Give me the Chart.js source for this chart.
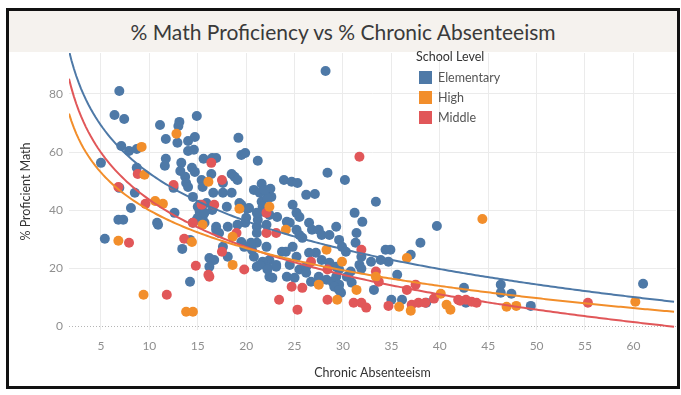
<!DOCTYPE html>
<html>
<head>
<meta charset="utf-8">
<script src="https://cdn.jsdelivr.net/npm/chart.js@4.4.1/dist/chart.umd.min.js"></script>
<style>
  body { margin: 0; background: #fff; font-family: Lato, sans-serif; }
  .wrap { position: relative; width: 681px; height: 395px; overflow: hidden; }
  .title-band {
    position: absolute; left: 9px; top: 11px; width: 668px; height: 41px;
    background: #f5f2ee; color: #3a3a3a; font-size: 21px;
    display: flex; align-items: center; justify-content: center;
  }
  #chart { position: absolute; left: 0; top: 0; }
  .frame {
    position: absolute; left: 6px; top: 8px; width: 668px; height: 375px;
    border: 3px solid #111; pointer-events: none;
  }
  .legend { position: absolute; left: 416px; top: 50px; font-size: 12.5px; color: #555; }
  .legend .head { height: 17px; line-height: 14px; color: #333; }
  .legend .row { height: 20px; display: flex; align-items: center; }
  .legend .box { width: 13px; height: 13px; margin: 0 6px 0 3px; }
</style>
</head>
<body>
<div class="wrap">
  <div class="title-band">% Math Proficiency vs % Chronic Absenteeism</div>
  <canvas id="chart" width="681" height="395"></canvas>
  <div class="legend" id="legend"><div class="head">School Level</div></div>
  <div class="frame"></div>
</div>
<script>
const levels = ["Elementary", "High", "Middle"];
const levelColors = ["#4e79a7", "#f28e2b", "#e15759"];

const xTicks = [5, 10, 15, 20, 25, 30, 35, 40, 45, 50, 55, 60];
const yTicks = [0, 20, 40, 60, 80];

// [chronic absenteeism, % proficient math]
const elementary = [
  [6.9, 81.0], [6.4, 72.8], [7.4, 71.4], [11.1, 69.3], [13.1, 70.4], [13.0, 69.0], [14.9, 72.4],
  [11.7, 64.5], [12.9, 63.2], [14.0, 63.8], [14.7, 65.2], [19.2, 64.9], [7.1, 62.1], [7.9, 60.4],
  [8.7, 61.1], [14.0, 60.4], [14.6, 60.8], [5.0, 56.3], [8.7, 54.6], [11.7, 57.7], [11.6, 55.3],
  [13.3, 56.3], [13.2, 53.5], [14.4, 54.6], [14.7, 53.2], [15.6, 57.7], [16.5, 58.0], [16.9, 58.0],
  [16.4, 52.5], [17.6, 49.4], [18.5, 52.5], [18.8, 51.5], [19.1, 50.4], [19.5, 59.0], [19.9, 59.7],
  [21.2, 57.0], [21.6, 49.1], [20.8, 47.0], [22.5, 47.4], [6.9, 47.7], [12.5, 47.7], [13.7, 51.5],
  [13.8, 49.4], [14.0, 48.0], [15.4, 50.4], [15.5, 48.0], [22.6, 44.6], [23.9, 50.4], [24.7, 49.8],
  [25.3, 49.4], [16.6, 46.0], [17.6, 46.0], [18.5, 46.0], [14.5, 44.6], [19.3, 42.5], [20.1, 40.5],
  [21.6, 42.9], [21.7, 41.2], [21.6, 39.5], [22.4, 38.4], [23.2, 37.7], [15.0, 41.2], [15.2, 39.5],
  [16.5, 40.1], [18.0, 41.2], [12.6, 39.1], [15.5, 37.4], [15.7, 35.7], [14.9, 36.7], [24.2, 36.0],
  [20.0, 37.4], [19.9, 35.7], [16.9, 34.3], [18.1, 34.3], [19.1, 35.0], [21.1, 34.3], [22.1, 35.0],
  [22.2, 44.3], [26.2, 45.3], [27.1, 45.6], [30.2, 50.4], [21.2, 36.7], [24.8, 41.9], [25.2, 39.1],
  [25.5, 37.7], [24.5, 35.7], [21.1, 32.2], [25.2, 33.3], [25.5, 31.5], [25.8, 30.5], [26.5, 35.7],
  [26.8, 33.3], [27.5, 33.3], [27.8, 31.5], [29.3, 34.3], [28.6, 31.5], [31.2, 39.1], [32.0, 36.0],
  [33.4, 42.9], [31.4, 32.2], [31.3, 28.8], [29.6, 29.8], [29.9, 27.4], [30.3, 25.7], [27.2, 25.4],
  [27.8, 22.9], [28.6, 21.9], [31.9, 24.0], [32.9, 22.3], [23.7, 25.7], [24.8, 27.4], [25.2, 24.0],
  [26.5, 25.4], [21.1, 28.8], [20.6, 26.4], [22.1, 27.4], [20.8, 24.0], [21.1, 20.6], [22.4, 22.9],
  [23.1, 20.6], [24.5, 21.2], [25.5, 19.6], [26.2, 20.6], [29.6, 19.6], [14.2, 15.4], [16.2, 23.6],
  [16.7, 22.9], [16.2, 20.6], [18.1, 24.0], [21.7, 22.3], [22.2, 20.2], [22.4, 17.1], [23.1, 21.2],
  [24.1, 25.7], [24.2, 17.1], [25.0, 16.8], [26.2, 18.5], [26.7, 15.4], [27.5, 17.1], [28.3, 16.1],
  [28.9, 15.4], [29.3, 17.1], [29.6, 14.4], [29.8, 11.6], [30.4, 17.1], [30.9, 15.1], [8.5, 46.0],
  [8.1, 40.8], [6.8, 36.7], [7.3, 36.7], [10.8, 35.7], [10.9, 35.0], [5.4, 30.2], [14.2, 29.8],
  [13.4, 26.7], [14.5, 35.7], [15.0, 37.4], [15.7, 39.1], [15.2, 41.9], [15.9, 42.5], [16.9, 33.3],
  [17.2, 32.2], [17.6, 27.4], [19.5, 29.1], [19.8, 27.4], [20.5, 28.8], [21.4, 21.2], [22.2, 19.6],
  [22.7, 16.8], [21.4, 46.0], [21.9, 47.0], [19.5, 41.9], [20.3, 40.8], [21.1, 39.1], [39.7, 34.6],
  [38.0, 28.8], [34.4, 26.4], [34.9, 26.4], [34.7, 22.3], [33.9, 22.9], [37.0, 24.7], [35.6, 17.8],
  [31.7, 21.2], [31.9, 19.9], [33.2, 12.6], [35.0, 9.2], [36.1, 9.2], [42.5, 13.3], [42.7, 8.2],
  [38.6, 8.2], [30.8, 18.9], [29.3, 20.6], [29.1, 13.7], [29.6, 12.6], [46.3, 14.4], [46.3, 11.6],
  [47.4, 11.3], [49.4, 7.1], [61.0, 14.7], [28.2, 87.9], [28.4, 52.9]
];

const high = [
  [12.8, 66.3], [9.2, 61.8], [9.5, 52.2], [16.1, 49.8], [10.6, 43.2], [11.4, 42.2], [6.8, 29.5],
  [14.4, 29.1], [9.4, 10.9], [13.8, 5.1], [14.5, 5.1], [18.6, 30.9], [18.6, 21.2], [22.4, 41.2],
  [19.3, 40.5], [15.5, 35.0], [24.1, 33.3], [28.3, 26.4], [29.9, 22.3], [27.5, 14.4], [31.4, 12.6],
  [33.4, 17.1], [36.6, 23.6], [35.8, 6.8], [37.0, 5.4], [40.1, 11.3], [40.7, 7.5], [41.1, 5.8],
  [44.4, 37.0], [46.9, 6.8], [47.9, 7.1], [60.2, 8.5], [29.4, 9.2]
];

const middle = [
  [6.8, 48.0], [8.8, 52.5], [16.4, 56.3], [17.5, 50.4], [12.5, 48.7], [31.7, 58.4], [9.6, 42.2],
  [7.9, 28.8], [13.6, 30.2], [14.8, 20.9], [16.2, 17.1], [11.8, 10.9], [16.7, 41.9], [15.4, 41.9],
  [22.1, 39.1], [14.5, 35.7], [22.1, 32.2], [23.1, 32.2], [19.0, 32.2], [17.5, 25.7], [19.8, 19.6],
  [23.4, 9.2], [25.3, 5.8], [24.7, 13.7], [25.8, 13.3], [28.4, 9.2], [31.1, 8.2], [31.9, 8.2],
  [32.4, 6.5], [26.7, 22.3], [28.4, 19.6], [31.9, 26.4], [33.4, 18.9], [33.7, 15.4], [37.5, 14.4],
  [36.6, 12.6], [34.7, 7.1], [37.1, 7.5], [37.8, 8.2], [38.5, 8.2], [39.4, 9.6], [41.9, 9.2],
  [42.7, 9.2], [43.3, 8.5], [42.1, 8.9], [43.8, 8.2], [55.3, 8.2], [16.1, 17.8]
];

// logarithmic trend lines: y = a + b * ln(x)
const trendIntercept = [107.5, 83.2, 97.7];
const trendSlope = [-23.78, -18.77, -23.49];

const xMin = 1.7, xMax = 64.4;
const yMin = -1.2, yMax = 94.1;

const pointSets = [elementary, high, middle];

function trendPoints(i) {
  const pts = [];
  for (let x = xMin; x <= xMax + 0.001; x += 0.25) {
    pts.push({ x: x, y: trendIntercept[i] + trendSlope[i] * Math.log(x) });
  }
  return pts;
}

const datasets = [];
levels.forEach((name, i) => {
  datasets.push({
    type: "line",
    label: name + " trend",
    data: trendPoints(i),
    borderColor: levelColors[i],
    borderWidth: 2,
    pointRadius: 0,
    fill: false,
    tension: 0,
  });
});
// high and middle drawn over elementary
[1, 2, 0].forEach((i) => {
  datasets.push({
    type: "scatter",
    label: levels[i],
    data: pointSets[i].map((p) => ({ x: p[0], y: p[1] })),
    backgroundColor: levelColors[i],
    borderWidth: 0,
    pointRadius: 5,
    pointHoverRadius: 5,
  });
});

// legend
const legend = document.getElementById("legend");
levels.forEach((name, i) => {
  const row = document.createElement("div");
  row.className = "row";
  const box = document.createElement("div");
  box.className = "box";
  box.style.background = levelColors[i];
  const label = document.createElement("span");
  label.textContent = name;
  row.appendChild(box);
  row.appendChild(label);
  legend.appendChild(row);
});

Chart.defaults.font.family = "Lato, sans-serif";

new Chart(document.getElementById("chart"), {
  data: { datasets: datasets },
  options: {
    responsive: false,
    animation: false,
    layout: { padding: { left: 10, right: 3, top: 53, bottom: 10 } },
    plugins: {
      legend: { display: false },
      tooltip: { enabled: false },
    },
    scales: {
      x: {
        type: "linear",
        min: xMin,
        max: xMax,
        afterBuildTicks: (s) => { s.ticks = xTicks.map((v) => ({ value: v })); },
        afterFit: (s) => { s.height = 55; },
        grid: { color: "#ebebeb", drawTicks: false },
        border: { display: false },
        ticks: { color: "#8f8f8f", font: { size: 12 }, padding: 9 },
        title: {
          display: true,
          text: "Chronic Absenteeism",
          color: "#333",
          font: { size: 12.5 },
          padding: { top: 0, bottom: 5 },
        },
      },
      y: {
        type: "linear",
        min: yMin,
        max: yMax,
        afterBuildTicks: (s) => { s.ticks = yTicks.map((v) => ({ value: v })); },
        afterFit: (s) => { s.width = 59; },
        grid: {
          color: (c) => (c.tick && c.tick.value === 0 ? "#b5b5b5" : "#ebebeb"),
          drawTicks: false,
        },
        border: {
          display: false,
          dash: (c) => (c.tick && c.tick.value === 0 ? [1, 2] : []),
        },
        ticks: { color: "#8f8f8f", font: { size: 12 }, padding: 6 },
        title: {
          display: true,
          text: "% Proficient Math",
          color: "#333",
          font: { size: 12.5 },
          padding: { top: 8, bottom: 0 },
        },
      },
    },
  },
});
</script>
</body>
</html>
